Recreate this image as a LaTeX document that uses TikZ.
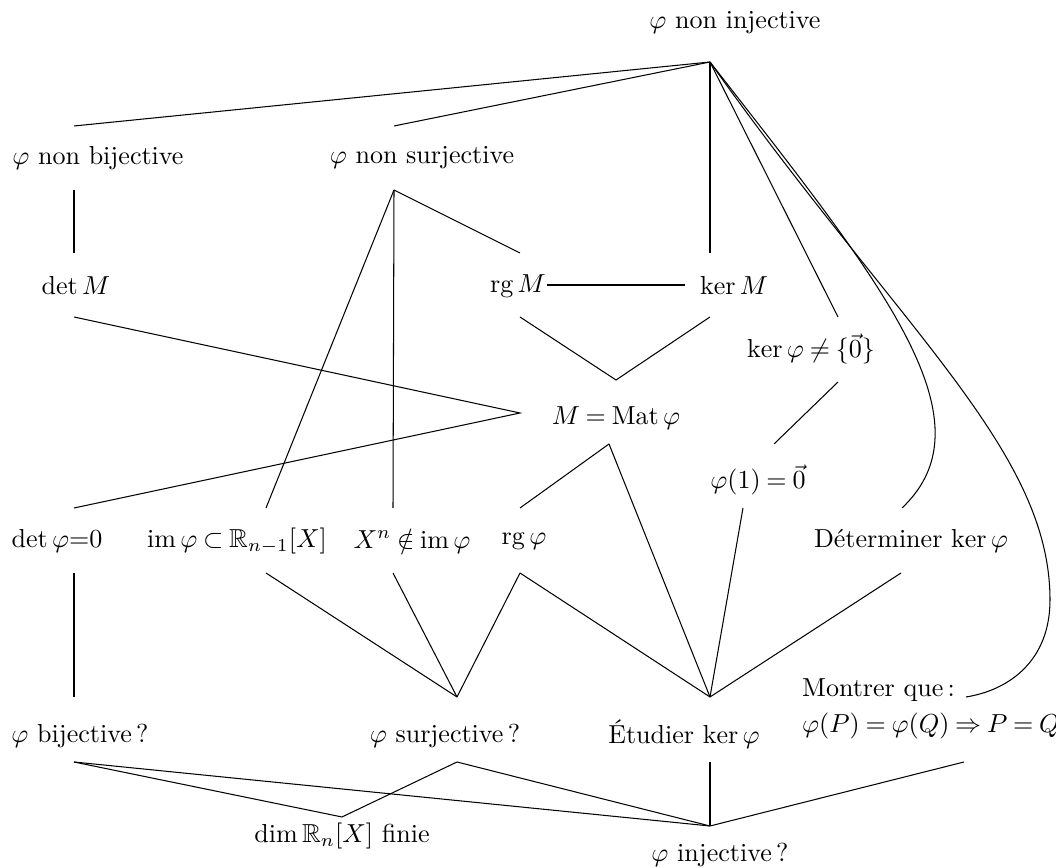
\documentclass[tikz,border=0pt]{standalone}
\usepackage{amsmath,amssymb}
\usepackage{fontspec}
\usetikzlibrary{calc}
\DeclareMathOperator{\rg}{rg}
\DeclareMathOperator{\im}{im}
\DeclareMathOperator{\Mat}{Mat}
\thickmuskip=4mu plus 2mu

\begin{document}
\begin{tikzpicture}[x=0.0135cm, y=-0.0135cm]
        \useasboundingbox (0,0) rectangle (1056,868);
        % etiquettes
        \node (ni) at (735,23) {$\varphi$ non injective};
        \node (nb) at (98,158) {$\varphi$ non bijective};
        \node (ns) at (422,158) {$\varphi$ non surjective};
        \node (detM) at (76,286) {$\det M$};
        \node (rgM) at (518,286) {$\rg M$};
        \node (kerM) at (734,286) {$\ker M$};
        \node (kerf) at (811,349) {$\ker\varphi\neq\{\vec{0}\}$};
        \node (mat) at (616,418) {$M=\Mat\varphi$};
        \node (f1) at (758,480) {$\varphi(1)=\vec{0}$};
        \node (detf) at (57,541) {$\det\varphi{=}0$};
        \node (imf) at (237,541) {$\im\varphi\subset\mathbb{R}_{n-1}[X]$};
        \node (xn) at (412,541) {$X^n\notin\im\varphi$};
        \node (rgf) at (524,541) {$\rg\varphi$};
        \node (detker) at (911,541) {Déterminer $\ker\varphi$};
        \node (bij) at (80,736) {$\varphi$ bijective\,?};
        \node (surj) at (445,736) {$\varphi$ surjective\,?};
        \node (etud) at (684,734) {Étudier $\ker\varphi$};
        \node[align=left, anchor=west] (mq) at (793,709) {Montrer que\,:\\[2pt] $\varphi(P)=\varphi(Q)\Rightarrow P=Q$};
        \node (dim) at (342,836) {$\dim\mathbb{R}_n[X]$ finie};
        \node (inj) at (720,855) {$\varphi$ injective\,?};
        % points d'attache
        \coordinate (ni-s) at (710,62);
        \coordinate (nb-n) at (74,126);   \coordinate (nb-s) at (74,190);
        \coordinate (ns-n) at (394,126);  \coordinate (ns-s) at (394,190);
        \coordinate (detM-n) at (74,253); \coordinate (detM-s) at (74,317);
        \coordinate (rgM-n) at (520,253); \coordinate (rgM-s) at (520,317); \coordinate (rgM-e) at (547,285);
        \coordinate (kerM-n) at (710,253); \coordinate (kerM-s) at (710,317); \coordinate (kerM-w) at (685,285);
        \coordinate (kerf-n) at (838,317); \coordinate (kerf-s) at (838,382);
        \coordinate (mat-n) at (616,380); \coordinate (mat-w) at (520,413); \coordinate (mat-s) at (609,444);
        \coordinate (f1-n) at (774,444);  \coordinate (f1-s) at (743,508);
        \coordinate (detf-n) at (74,508); \coordinate (detf-s) at (74,573);
        \coordinate (imf-n) at (266,508); \coordinate (imf-s) at (266,573);
        \coordinate (xn-n) at (393,508);  \coordinate (xn-s) at (393,573);
        \coordinate (rgf-n) at (520,508); \coordinate (rgf-s) at (520,573);
        \coordinate (detker-n) at (902,508); \coordinate (detker-s) at (901,573);
        \coordinate (bij-n) at (74,697);  \coordinate (bij-s) at (74,762);
        \coordinate (surj-n) at (457,697); \coordinate (surj-s) at (457,762);
        \coordinate (etud-n) at (710,697); \coordinate (etud-s) at (710,762);
        \coordinate (mq-e) at (966,697);  \coordinate (mq-s) at (964,762);
        \coordinate (dim-n) at (342,817);
        \coordinate (inj-n) at (710,826);
        % liens
        \draw (ni-s) -- (nb-n);
        \draw (ni-s) -- (ns-n);
        \draw (ni-s) -- (kerM-n);
        \draw (ni-s) -- (kerf-n);
        \draw (ni-s) .. controls (880,280) and (995,420) .. (detker-n);
        \draw (ni-s) .. controls (900,330) and (1050,450) .. (1050,600) .. controls (1050,660) and (1010,690) .. (mq-e);
        \draw (nb-s) -- (detM-n);
        \draw (ns-s) -- (rgM-n);
        \draw (ns-s) -- (imf-n);
        \draw (ns-s) -- (xn-n);
        \draw (rgM-e) -- (kerM-w);
        \draw (rgM-s) -- (mat-n) -- (kerM-s);
        \draw (detM-s) -- (mat-w) -- (detf-n);
        \draw (kerf-s) -- (f1-n);
        \draw (mat-s) -- (rgf-n);
        \draw (mat-s) -- (etud-n);
        \draw (f1-s) -- (etud-n);
        \draw (detf-s) -- (bij-n);
        \draw (imf-s) -- (surj-n);
        \draw (xn-s) -- (surj-n);
        \draw (rgf-s) -- (surj-n);
        \draw (rgf-s) -- (etud-n);
        \draw (detker-s) -- (etud-n);
        \draw (bij-s) -- (dim-n) -- (surj-s);
        \draw (bij-s) -- (inj-n);
        \draw (surj-s) -- (inj-n);
        \draw (etud-s) -- (inj-n);
        \draw (mq-s) -- (inj-n);
\end{tikzpicture}
\end{document}
